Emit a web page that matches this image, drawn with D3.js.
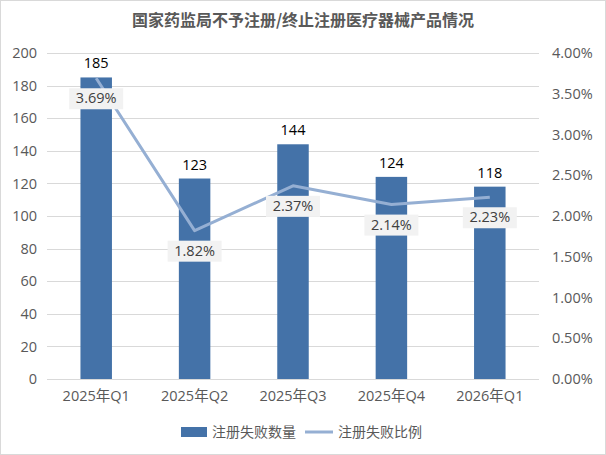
<!DOCTYPE html>
<html>
<head>
<meta charset="utf-8">
<script src="https://cdn.jsdelivr.net/npm/d3@7"></script>
<style>
  body { margin: 0; background: #fff; }
  text { font-family: "Open Sans", "Noto Sans CJK SC", sans-serif; }
</style>
</head>
<body>
<div id="chart"></div>
<script>
// chart data
var quarters = ["2025年Q1", "2025年Q2", "2025年Q3", "2025年Q4", "2026年Q1"];
var failCounts = [185, 123, 144, 124, 118];
var failRates = [3.69, 1.82, 2.37, 2.14, 2.23];
var countTicks = [0, 20, 40, 60, 80, 100, 120, 140, 160, 180, 200];
var rateTicks = [0, 0.5, 1, 1.5, 2, 2.5, 3, 3.5, 4];
var seriesNames = ["注册失败数量", "注册失败比例"];

var width = 606;
var height = 455;
var margin = { top: 53, right: 67, bottom: 76, left: 47 };
var barColor = "#4472A8";
var lineColor = "#95AFD3";
var axisText = "#595959";
var fontStack = "'Open Sans', 'Noto Sans CJK SC', sans-serif";

var svg = d3.select("#chart").append("svg")
    .attr("width", width)
    .attr("height", height);

//outer border
svg.append("rect")
    .attr("x", 0.5).attr("y", 0.5)
    .attr("width", width - 1).attr("height", height - 1)
    .style("fill", "#fff")
    .style("stroke", "#d9d9d9");

svg.append("text")
    .attr("x", width / 2)
    .attr("y", 26)
    .attr("text-anchor", "middle")
    .style("font-family", "'Noto Sans CJK SC', sans-serif")
    .style("font-size", "16px")
    .style("font-weight", "bold")
    .style("fill", axisText)
    .text("国家药监局不予注册/终止注册医疗器械产品情况");

var x = d3.scaleBand()
    .domain(quarters)
    .range([margin.left, width - margin.right])
    .paddingInner(0.68)
    .paddingOuter(0.34);

var y = d3.scaleLinear()
    .domain([0, 200])
    .range([height - margin.bottom, margin.top]);

var y2 = d3.scaleLinear()
    .domain([0, 4])
    .range([height - margin.bottom, margin.top]);

//gridlines
svg.append("g")
    .selectAll("line")
    .data(countTicks)
    .enter()
    .append("line")
    .attr("x1", margin.left)
    .attr("x2", width - margin.right)
    .attr("y1", function(d) { return Math.round(y(d)) + 0.5; })
    .attr("y2", function(d) { return Math.round(y(d)) + 0.5; })
    .style("stroke", "#d9d9d9")
    .style("stroke-width", 1);

//left axis
var leftAxis = svg.append("g")
    .attr("transform", "translate(" + margin.left + ",0)")
    .call(d3.axisLeft(y).tickValues(countTicks).tickSize(0).tickPadding(10));
leftAxis.select(".domain").remove();
leftAxis.selectAll("text")
    .style("font-size", "14.5px")
    .style("fill", axisText)
    .style("font-family", fontStack);

//right axis
var rightAxis = svg.append("g")
    .attr("transform", "translate(" + (width - margin.right) + ",0)")
    .call(d3.axisRight(y2).tickValues(rateTicks).tickSize(0).tickPadding(13)
        .tickFormat(function(d) { return d.toFixed(2) + "%"; }));
rightAxis.select(".domain").remove();
rightAxis.selectAll("text")
    .style("font-size", "14.5px")
    .style("fill", axisText)
    .style("font-family", fontStack);

//bottom axis
var bottomAxis = svg.append("g")
    .attr("transform", "translate(0," + (height - margin.bottom) + ")")
    .call(d3.axisBottom(x).tickSize(0).tickPadding(12));
bottomAxis.select(".domain").remove();
bottomAxis.selectAll("text")
    .style("font-size", "14.5px")
    .style("fill", axisText)
    .style("font-family", fontStack);

//bars
svg.selectAll(".bar")
    .data(failCounts)
    .enter()
    .append("rect")
    .attr("class", "bar")
    .attr("x", function(d, i) { return x(quarters[i]); })
    .attr("y", function(d) { return y(d); })
    .attr("width", x.bandwidth())
    .attr("height", function(d) { return y(0) - y(d); })
    .style("fill", barColor);

//bar labels
svg.selectAll(".blbl")
    .data(failCounts)
    .enter()
    .append("text")
    .attr("class", "blbl")
    .attr("x", function(d, i) { return x(quarters[i]) + x.bandwidth() / 2; })
    .attr("y", function(d) { return y(d) - 9; })
    .attr("text-anchor", "middle")
    .style("font-size", "14.5px")
    .style("fill", "#000")
    .text(function(d) { return d; });

//rate line
var line = d3.line()
    .x(function(d, i) { return x(quarters[i]) + x.bandwidth() / 2; })
    .y(function(d) { return y2(d); });

svg.append("path")
    .datum(failRates)
    .attr("d", line)
    .style("fill", "none")
    .style("stroke", lineColor)
    .style("stroke-width", 3)
    .style("stroke-linejoin", "round");

//rate labels with background box
var rl = svg.selectAll(".rlbl")
    .data(failRates)
    .enter()
    .append("g")
    .attr("class", "rlbl")
    .attr("transform", function(d, i) {
        return "translate(" + (x(quarters[i]) + x.bandwidth() / 2) + "," + (y2(d) + 20) + ")";
    });

rl.append("rect")
    .attr("x", -27)
    .attr("y", -10)
    .attr("width", 54)
    .attr("height", 21)
    .style("fill", "#f2f2f2");

rl.append("text")
    .attr("text-anchor", "middle")
    .attr("dy", "0.36em")
    .style("font-size", "14.5px")
    .style("fill", "#404040")
    .text(function(d) { return d.toFixed(2) + "%"; });

//legend
var legend = svg.append("g").attr("transform", "translate(0,432)");
legend.append("rect")
    .attr("x", 181).attr("y", -5)
    .attr("width", 26).attr("height", 10)
    .style("fill", barColor);
legend.append("text")
    .attr("x", 212).attr("dy", "0.36em")
    .style("font-size", "14px")
    .style("fill", axisText)
    .text(seriesNames[0]);
legend.append("line")
    .attr("x1", 305).attr("x2", 333)
    .attr("y1", 0).attr("y2", 0)
    .style("stroke", lineColor)
    .style("stroke-width", 3);
legend.append("text")
    .attr("x", 338).attr("dy", "0.36em")
    .style("font-size", "14px")
    .style("fill", axisText)
    .text(seriesNames[1]);
</script>
</body>
</html>
